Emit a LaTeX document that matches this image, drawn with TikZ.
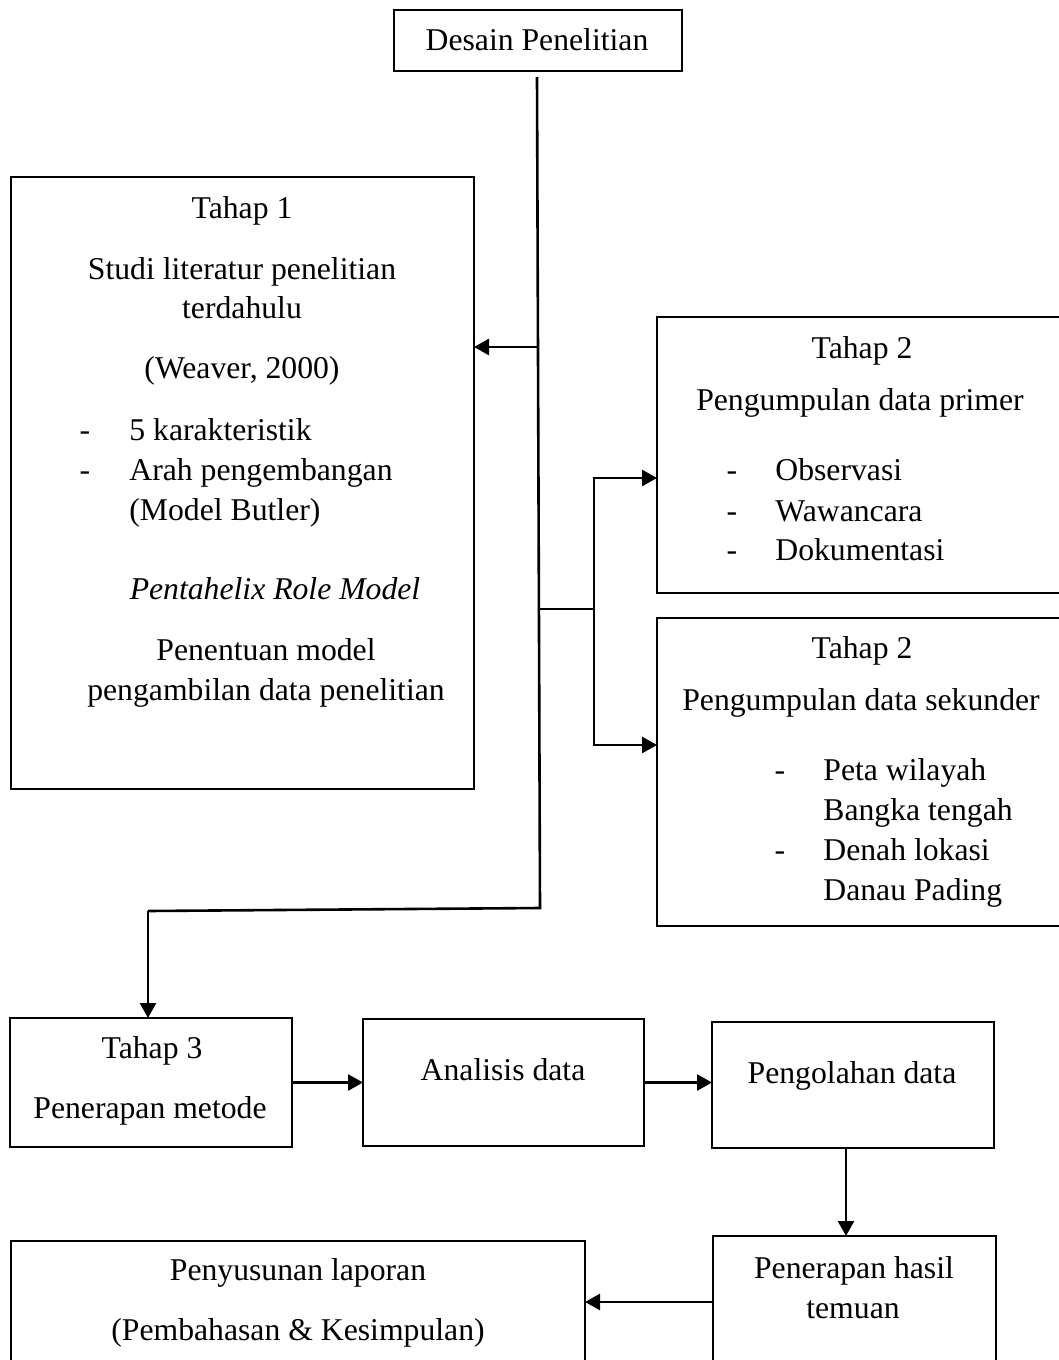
\documentclass[tikz,border=0pt]{standalone}
\usepackage{fontspec}
\setmainfont{Liberation Serif}
\usetikzlibrary{arrows.meta}
\tikzset{
  box/.style={draw, line width=1.35pt, inner sep=0pt, outer sep=0pt},
  txt/.style={inner sep=0pt, anchor=base, font=\fontsize{15.85pt}{19pt}\selectfont},
  ltxt/.style={inner sep=0pt, anchor=base west, font=\fontsize{15.85pt}{19pt}\selectfont},
  ln/.style={line width=1.3pt},
  arr/.style={line width=1.3pt, -{Triangle[length=7.5pt,width=8pt]}}
}
\begin{document}
\begin{tikzpicture}[x=0.5pt,y=-0.5pt]
\clip (0,0) rectangle (1059,1360);
\useasboundingbox (0,0) rectangle (1059,1360);
% boxes
\node[box, minimum width=144pt, minimum height=30.5pt] (desain) at (538,40.5) {};
\node[box, minimum width=231.5pt, minimum height=306pt] (tahap1) at (242.5,483) {};
\node[box, minimum width=211.5pt, minimum height=138pt] (primer) at (868.5,455) {};
\node[box, minimum width=211.5pt, minimum height=154pt] (sekunder) at (868.5,772) {};
\node[box, minimum width=141pt, minimum height=64.5pt] (tahap3) at (151,1082.5) {};
\node[box, minimum width=140.5pt, minimum height=63.5pt] (analisis) at (503.5,1082.5) {};
\node[box, minimum width=141pt, minimum height=63pt] (pengolahan) at (853,1085) {};
\node[box, minimum width=141.5pt, minimum height=77pt] (penerapan) at (854.5,1313) {};
\node[box, minimum width=287pt, minimum height=74.5pt] (penyusunan) at (298,1315.5) {};
% texts
\node[txt] (t0) at (537,50) {Desain Penelitian};
\node[txt] (t1a) at (242,218) {Tahap 1};
\node[txt] (t1b) at (242,279) {Studi literatur penelitian};
\node[txt] (t1c) at (242,318) {terdahulu};
\node[txt] (t1d) at (242,378) {(Weaver, 2000)};
\node[txt] (t1e) at (85,440) {-};
\node[ltxt] (t1f) at (129,440) {5 karakteristik};
\node[txt] (t1g) at (85,480) {-};
\node[ltxt] (t1h) at (129,480) {Arah pengembangan};
\node[ltxt] (t1i) at (129,520) {(Model Butler)};
\node[txt] (t1j) at (275,599) {\itshape Pentahelix Role Model};
\node[txt] (t1k) at (266,660) {Penentuan model};
\node[txt] (t1l) at (266,700) {pengambilan data penelitian};
\node[txt] (t2a) at (862,358) {Tahap 2};
\node[txt] (t2b) at (860,410) {Pengumpulan data primer};
\node[txt] (t2c) at (732,480) {-};
\node[ltxt] (t2d) at (775,480) {Observasi};
\node[txt] (t2e) at (732,521) {-};
\node[ltxt] (t2f) at (775,521) {Wawancara};
\node[txt] (t2g) at (732,560) {-};
\node[ltxt] (t2h) at (775,560) {Dokumentasi};
\node[txt] (t3a) at (862,658) {Tahap 2};
\node[txt] (t3b) at (861,710) {Pengumpulan data sekunder};
\node[txt] (t3c) at (780,780) {-};
\node[ltxt] (t3d) at (823,780) {Peta wilayah};
\node[ltxt] (t3e) at (823,820) {Bangka tengah};
\node[txt] (t3f) at (780,860) {-};
\node[ltxt] (t3g) at (823,860) {Denah lokasi};
\node[ltxt] (t3h) at (823,900) {Danau Pading};
\node[txt] (t4a) at (152,1058) {Tahap 3};
\node[txt] (t4b) at (150,1118) {Penerapan metode};
\node[txt] (t5) at (503,1080) {Analisis data};
\node[txt] (t6) at (852,1083) {Pengolahan data};
\node[txt] (t7a) at (854,1278) {Penerapan hasil};
\node[txt] (t7b) at (853,1318) {temuan};
\node[txt] (t8a) at (298,1280) {Penyusunan laporan};
\node[txt] (t8b) at (298,1340) {(Pembahasan \& Kesimpulan)};
% connectors
\coordinate (ttop) at (537,77);
\coordinate (tbot) at (540,908);
\coordinate (tcorner) at (148,911);
\coordinate (a1) at (537,347);
\coordinate (b0) at (538,609);
\coordinate (b1) at (594,609);
\coordinate (bt) at (594,478);
\coordinate (bb) at (594,745);
\coordinate (pa) at (713,1302);
\draw[ln] (ttop) -- (tbot) -- (tcorner);
\draw[arr] (tcorner) -- (tcorner |- tahap3.north);
\draw[arr] (a1) -- (a1 -| tahap1.east);
\draw[ln] (b0) -- (b1);
\draw[arr] (b1) -- (bt) -- (bt -| primer.west);
\draw[arr] (b1) -- (bb) -- (bb -| sekunder.west);
\draw[arr] (tahap3.east) -- (analisis.west);
\draw[arr] (analisis.east) -- (analisis.east -| pengolahan.west);
\draw[arr] ([xshift=-3.5pt]pengolahan.south) -- ([xshift=-3.5pt]pengolahan.south |- penerapan.north);
\draw[arr] (pa -| penerapan.west) -- (pa -| penyusunan.east);
\end{tikzpicture}
\end{document}
